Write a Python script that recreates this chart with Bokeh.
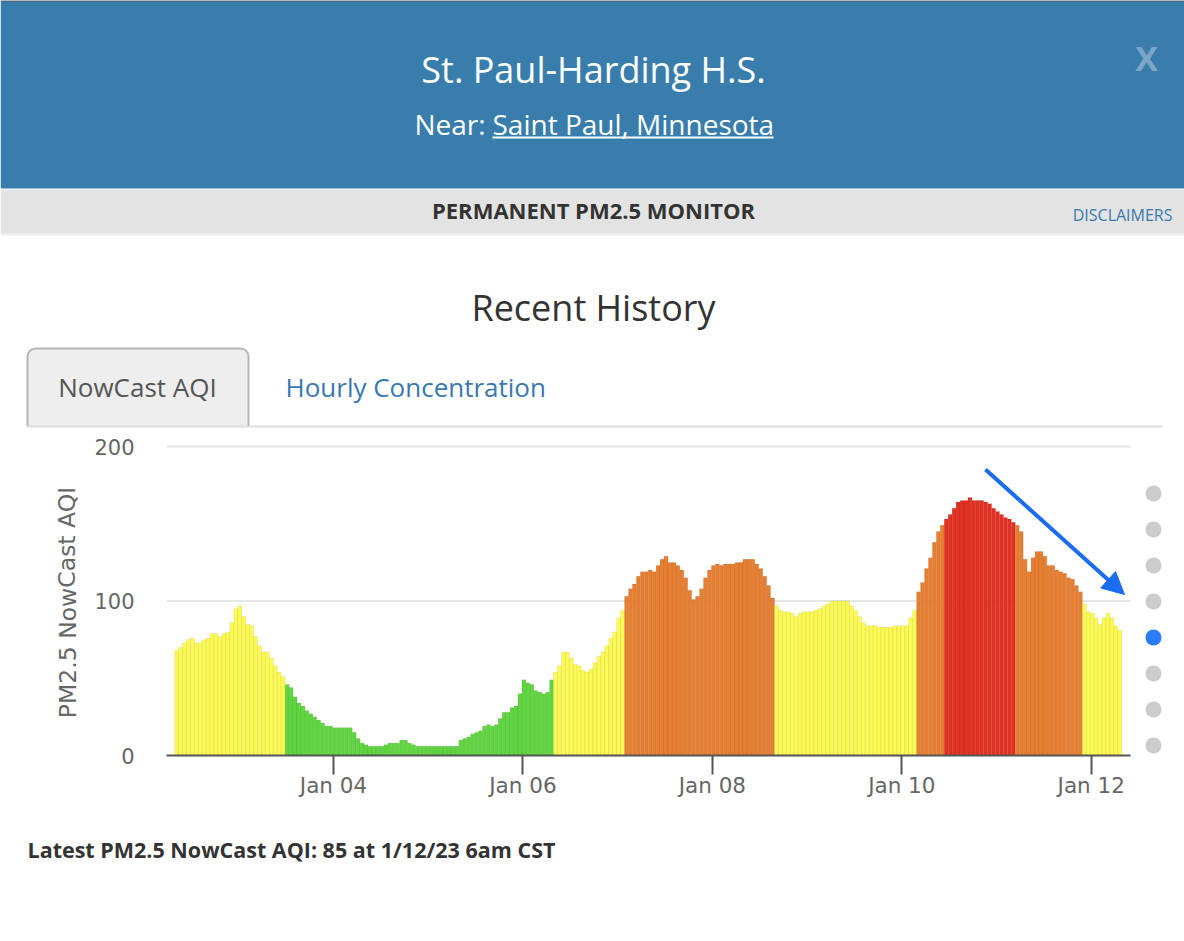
import pandas as pd
from bokeh.embed import file_html
from bokeh.models import (Arrow, BoxAnnotation, ColumnDataSource, DatetimeAxis, DatetimeTickFormatter,
                          FixedTicker, Label, LinearAxis, NormalHead, Range1d)
from bokeh.plotting import figure
from bokeh.resources import INLINE

TITLE = "St. Paul-Harding H.S."
CAPTION = "Latest PM2.5 NowCast AQI: 85 at 1/12/23 6am CST"
Y_LABEL = "PM2.5 NowCast AQI"
Y_TICKS = [0, 100, 200]
X_TICK_DATES = ["2023-01-04", "2023-01-06", "2023-01-08", "2023-01-10", "2023-01-12"]

# hourly NowCast AQI
aqi_values = [
    68, 70, 73, 75, 76, 73, 73, 75, 76, 79, 79, 77, 79, 80, 86, 95, 97, 90, 85, 84, 77, 71, 67, 67, 63, 58, 54, 51,
    46, 44, 38, 34, 32, 29, 27, 25, 23, 21, 19, 19, 18, 18, 18, 18, 18, 15, 11, 8, 7, 6, 6, 6, 6, 7, 8, 8, 8,
    10, 10, 8, 7, 6, 6, 6, 6, 6, 6, 6, 6, 6, 6, 6,
    10, 11, 12, 14, 15, 16, 19, 20, 19, 20, 24, 28, 28, 31, 32, 40, 49, 47, 46, 42, 41, 40, 41, 49,
    54, 58, 67, 67, 63, 59, 58, 55, 54, 56, 60, 64, 67, 71, 76, 80, 89, 94,
    103, 108, 111, 116, 119, 119, 120, 119, 123, 127, 129, 125, 125, 123, 120, 115, 107, 101, 103, 108,
    115, 120, 123, 124, 123, 124, 124, 124, 125, 125, 127, 127, 127, 124, 121, 116, 110, 102,
    97, 94, 93, 93, 92, 90, 92, 93, 93, 93, 94, 95, 97, 98, 100, 100, 100, 100, 100,
    97, 94, 90, 86, 84, 84, 84, 83, 83, 83, 83, 84, 84, 84, 84, 89, 94,
    106, 112, 121, 128, 138, 145, 149,
    153, 156, 160, 164, 165, 165, 167, 165, 165, 165, 164, 163, 160, 158, 156, 154, 153, 151,
    149, 145, 127, 119, 128, 132, 132, 129, 123, 123, 120, 119, 118, 115, 114, 110, 106,
    98, 93, 92, 89, 85, 89, 92, 89, 84, 81,
]


def aqi_color(v):
    if v <= 50:
        return "#5fd63f"
    if v <= 100:
        return "#fdfb52"
    if v <= 150:
        return "#e87e2f"
    return "#e23122"


hours = pd.date_range("2023-01-02 08:15", periods=len(aqi_values), freq="h")
source = ColumnDataSource(data=dict(t=hours, aqi=aqi_values, color=[aqi_color(v) for v in aqi_values]))

day_ms = 86400000
jan04 = pd.Timestamp("2023-01-04").timestamp() * 1000
px_per_day = 94.72
px_per_aqi = 1.545

# the frame fills the page, the axes are pinned inside it at the chart's place
p = figure(width=1184, height=941, output_backend="svg", toolbar_location=None,
           x_axis_location=None, y_axis_location=None, min_border=0,
           x_range=Range1d(jan04 - 333 / px_per_day * day_ms, jan04 + 851 / px_per_day * day_ms),
           y_range=Range1d(-186 / px_per_aqi, 755 / px_per_aqi))
p.outline_line_color = None
p.background_fill_color = "white"
p.xgrid.visible = False
p.ygrid.visible = False


def box(left, top, right, bottom, color, **kw):
    p.add_layout(BoxAnnotation(left=left, right=right, top=top, bottom=bottom, left_units="canvas",
                               right_units="canvas", top_units="canvas", bottom_units="canvas",
                               fill_color=color, fill_alpha=1, line_color=kw.pop("line_color", None),
                               line_alpha=1, **kw))


def text(x, y, s, size, color="#333333", align="center", style="normal", font="Open Sans", angle=0):
    p.add_layout(Label(x=x, y=y, x_units="canvas", y_units="canvas", text=s, text_font=font,
                       text_font_size=f"{size}px", text_color=color, text_align=align, angle=angle,
                       text_baseline="middle", text_font_style=style))


for level in Y_TICKS[1:]:
    p.line(x=[jan04 - 167 / px_per_day * day_ms, jan04 + 797 / px_per_day * day_ms], y=[level, level],
           line_color="#e6e6e6", line_width=2)

p.vbar(x="t", top="aqi", bottom=0, width=3600000, fill_color="color", line_color="#000000", line_alpha=0.07,
       line_width=1, source=source)

yaxis = LinearAxis(fixed_location=jan04 - 167 / px_per_day * day_ms, ticker=FixedTicker(ticks=Y_TICKS))
yaxis.axis_line_color = None
yaxis.major_tick_line_color = None
yaxis.minor_tick_line_color = None
yaxis.major_label_standoff = 26
yaxis.major_label_text_font = "DejaVu Sans"
yaxis.major_label_text_font_size = "21px"
yaxis.major_label_text_color = "#666666"
p.add_layout(yaxis, "left")

xaxis = DatetimeAxis(fixed_location=0,
                     ticker=FixedTicker(ticks=[pd.Timestamp(d).timestamp() * 1000 for d in X_TICK_DATES]),
                     formatter=DatetimeTickFormatter(hours="%b %d", days="%b %d", months="%b %d", years="%b %d"))
xaxis.bounds = (jan04 - 167 / px_per_day * day_ms, jan04 + 797 / px_per_day * day_ms)
xaxis.axis_line_color = "#555555"
xaxis.axis_line_width = 2
xaxis.major_tick_line_color = "#555555"
xaxis.major_tick_line_width = 2
xaxis.major_tick_in = 0
xaxis.major_tick_out = 19
xaxis.minor_tick_line_color = None
xaxis.major_label_standoff = -2
xaxis.major_label_text_font = "DejaVu Sans"
xaxis.major_label_text_font_size = "21.5px"
xaxis.major_label_text_color = "#666666"
p.add_layout(xaxis, "below")

# page furniture around the chart
box(0, 0, 1184, 188, "#387dab")
box(0, 0, 1184, 1, "#555555")
box(0, 189, 1184, 233, "#e3e3e3")
box(0, 233, 1184, 235, "#eeeeee")
text(593, 69, TITLE, 36, "white")
text(414, 123, "Near:", 28, "white", "left")
text(492, 123, "Saint Paul, Minnesota", 28, "white", "left")
box(492, 136, 773, 138, "white")
text(1146, 57, "X", 34, "#7ba6c6", style="bold")
text(593, 209, "PERMANENT PM2.5 MONITOR", 22, style="bold")
text(1172, 214, "DISCLAIMERS", 16, "#3a7ab0", "right")
text(593, 307, "Recent History", 36)

box(27, 348, 248, 430, "#eeeeee", line_color="#b5b5b5", line_width=2, border_radius=(8, 8, 0, 0))
box(20, 426, 260, 433, "white")
box(27, 425, 1162, 427, "#dddddd")
text(137, 386, "NowCast AQI", 26, "#555555")
text(285, 386, "Hourly Concentration", 26, "#3a78b2", "left")

text(67, 602, Y_LABEL, 23.5, "#666666", font="DejaVu Sans", angle=1.5708)
text(27, 849, CAPTION, 21.5, style="bold", align="left")

# pager dots on the right
for i, y in enumerate([493, 529, 565, 601, 637, 673, 709, 745]):
    box(1145, y - 8, 1161, y + 8, "#2a7efb" if i == 4 else "#cccccc", border_radius=8)

p.add_layout(Arrow(end=NormalHead(size=22, fill_color="#1a6cf0", line_color="#1a6cf0"),
                   x_start=985, y_start=469, x_end=1124, y_end=594,
                   start_units="canvas", end_units="canvas", line_color="#1a6cf0", line_width=4))

open("out.html", "w").write(file_html(p, INLINE))
